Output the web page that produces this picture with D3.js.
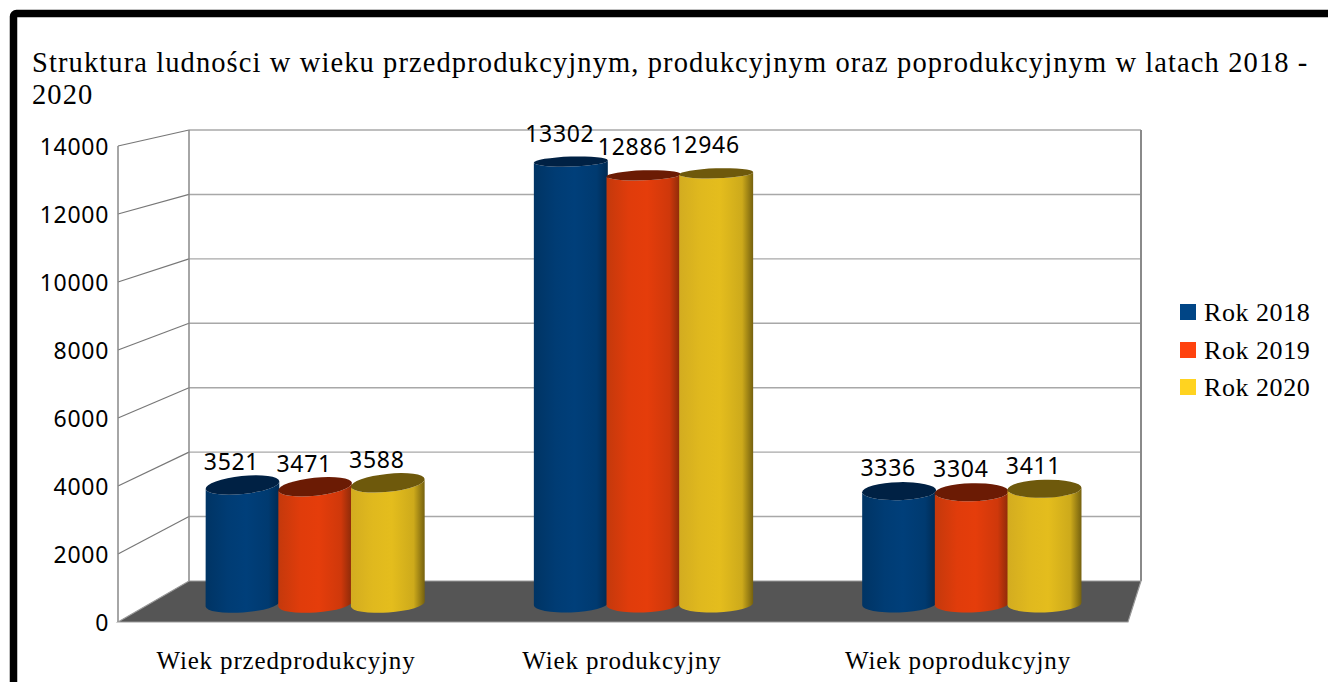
<!DOCTYPE html>
<html><head><meta charset="utf-8">
<script src="https://cdn.jsdelivr.net/npm/d3@7/dist/d3.min.js"></script>
<style>html,body{margin:0;padding:0;background:#fff;overflow:hidden}svg{display:block}</style>
</head><body><svg id="c" width="1328" height="682"></svg>
<script>
const categories = ["Wiek przedprodukcyjny","Wiek produkcyjny","Wiek poprodukcyjny"];
const seriesNames = ["Rok 2018","Rok 2019","Rok 2020"];
const values2018 = [3521,13302,3336];
const values2019 = [3471,12886,3304];
const values2020 = [3588,12946,3411];
const yTicks = [0,2000,4000,6000,8000,10000,12000,14000];
const titleLines = ["Struktura ludności w wieku przedprodukcyjnym, produkcyjnym oraz poprodukcyjnym w latach 2018 -","2020"];

const series=[values2018,values2019,values2020];
const fill=["#004586","#ff420e","#ffd320"];
const ramps=[["#003464","#003c74","#003f7a","#003a70","#002a52"],["#c4390c","#e03c0b","#e53d0b","#cf380b","#8a2a09"],["#d3ac20","#e0b91e","#e4bd1d","#cdaa1b","#75610f"]];
const topFill=["#002144","#6b1b04","#6e590c"];
const serif='"Liberation Serif","Times New Roman",serif', sans='"Noto Sans","Open Sans",sans-serif';
const svg=d3.select("#c");
svg.append("rect").attr("width",1328).attr("height",682).attr("fill","#fff");
svg.append("rect").attr("x",13.5).attr("y",13.5).attr("width",1340).attr("height",700).attr("rx",3).attr("fill","#fff").attr("stroke","#000").attr("stroke-width",7.5);

svg.append("text").selectAll("tspan").data(titleLines).join("tspan")
 .attr("x",32).attr("y",(d,i)=>72+i*31.5).text(d=>d)
 .attr("font-family",serif).attr("font-size",28.5).attr("letter-spacing",1.1).attr("fill","#000");

const yFront=d3.scaleLinear().domain([0,14000]).range([622,146]);
const yBack=d3.scaleLinear().domain([0,14000]).range([581,130]);
const yMid=d3.scaleLinear().domain([0,14000]).range([601.5,138.5]);
const xF=118,xB=189,xR=1141,xRF=1128;

const grid=svg.append("g");
grid.selectAll("line.b").data(yTicks.filter(t=>t>0)).join("line").attr("x1",xB).attr("x2",xR).attr("y1",d=>yBack(d)).attr("y2",d=>yBack(d)).attr("stroke","#a8a8a8").attr("stroke-width",1.4);
grid.selectAll("line.s").data(yTicks.filter(t=>t>0)).join("line").attr("class","s").attr("x1",xF).attr("x2",xB).attr("y1",d=>yFront(d)).attr("y2",d=>yBack(d)).attr("stroke","#777").attr("stroke-width",1.2);
grid.append("line").attr("x1",xF).attr("x2",xF).attr("y1",yFront(14000)).attr("y2",yFront(0)).attr("stroke","#888").attr("stroke-width",1.5);
grid.append("line").attr("x1",xB).attr("x2",xB).attr("y1",yBack(14000)).attr("y2",yBack(0)).attr("stroke","#888").attr("stroke-width",1.5);
grid.append("line").attr("x1",xR).attr("x2",xR).attr("y1",yBack(14000)).attr("y2",yBack(0)).attr("stroke","#8a8a8a").attr("stroke-width",2);
svg.append("path").attr("d",`M${xF},${yFront(0)}L${xB},${yBack(0)}L${xR},${yBack(0)}L${xRF},${yFront(0)}Z`).attr("fill","#555").attr("stroke","#999").attr("stroke-width",1.2);

const yAxis=d3.axisLeft(yFront).tickValues(yTicks).tickSize(0).tickPadding(0).tickFormat(d3.format("d"));
const ax=svg.append("g").attr("transform","translate(109,0)").call(yAxis);
ax.select(".domain").remove();
ax.selectAll("text").attr("font-family",sans).attr("font-size",23).attr("letter-spacing",0.7).attr("fill","#000").attr("dy","0.35em");

const xCat=d3.scaleBand().domain(categories).range([151,1136]);
const xSer=d3.scaleBand().domain(seriesNames).range([-109,109]);
const tilt=[-6,-1.8,-1.5], baseTilt=[-4,-2,-2], ryTop=[9,5,9], ryBase=[8.5,8.5,8.5], labelUp=[23,28,23];
const defs=svg.append("defs");
ramps.forEach((r,i)=>{
 const g=defs.append("linearGradient").attr("id","g"+i);
 [0,.3,.55,.85,1].forEach((o,k)=>g.append("stop").attr("offset",o).attr("stop-color",r[k]));
});
const rx=37;
const pt=(cx,cy,a,s)=>{const t=a*Math.PI/180;return [cx+s*rx*Math.cos(t),cy+s*rx*Math.sin(t)];};
const bars=[];
categories.forEach((c,ci)=>seriesNames.forEach((n,si)=>bars.push({ci,si,c,n,v:series[si][ci]})));
const bg=svg.append("g");
bg.selectAll("g").data(bars).join("g").each(function(d){
 const g=d3.select(this), cx=xCat(d.c)+xCat.bandwidth()/2+xSer(d.n)+xSer.bandwidth()/2;
 const top=yMid(d.v), base=yMid(0)+2.5, a=tilt[d.ci], b=baseTilt[d.ci];
 const [lx,ly]=pt(cx,top,a,-1),[rxx,ry]=pt(cx,top,a,1),[blx,bly]=pt(cx,base,b,-1),[brx,bry]=pt(cx,base,b,1);
 g.append("path").attr("d",`M${lx},${ly}L${blx},${bly}A${rx},${ryBase[d.ci]} ${b} 0 0 ${brx},${bry}L${rxx},${ry}A${rx},${ryTop[d.ci]} ${a} 0 1 ${lx},${ly}Z`).attr("fill",`url(#g${d.si})`);
 g.append("ellipse").attr("rx",rx).attr("ry",ryTop[d.ci]).attr("transform",`translate(${cx},${top}) rotate(${a})`).attr("fill",topFill[d.si]);
 g.append("text").attr("x",cx-11).attr("y",top-labelUp[d.ci]).attr("dy","0.35em").attr("text-anchor","middle").attr("font-family",sans).attr("font-size",23).attr("letter-spacing",0.7).attr("fill","#000").text(d.v);
});

const xLabel=d3.scaleBand().domain(categories).range([118,1126]);
const xAxis=d3.axisBottom(xLabel).tickSize(0).tickPadding(0);
const xa=svg.append("g").call(xAxis);
xa.select(".domain").remove();
xa.selectAll("text").attr("y",669).attr("dy",0).attr("font-family",serif).attr("font-size",25).attr("letter-spacing",0.85).attr("fill","#000");

const lg=svg.append("g").selectAll("g").data(seriesNames).join("g").attr("transform",(d,i)=>`translate(1180,${[304,342,379][i]})`);
lg.append("rect").attr("width",16).attr("height",16).attr("fill",(d,i)=>fill[i]);
lg.append("text").attr("x",24).attr("y",17).attr("font-family",serif).attr("font-size",26).attr("letter-spacing",0.55).attr("fill","#000").text(d=>d);
</script></body></html>
